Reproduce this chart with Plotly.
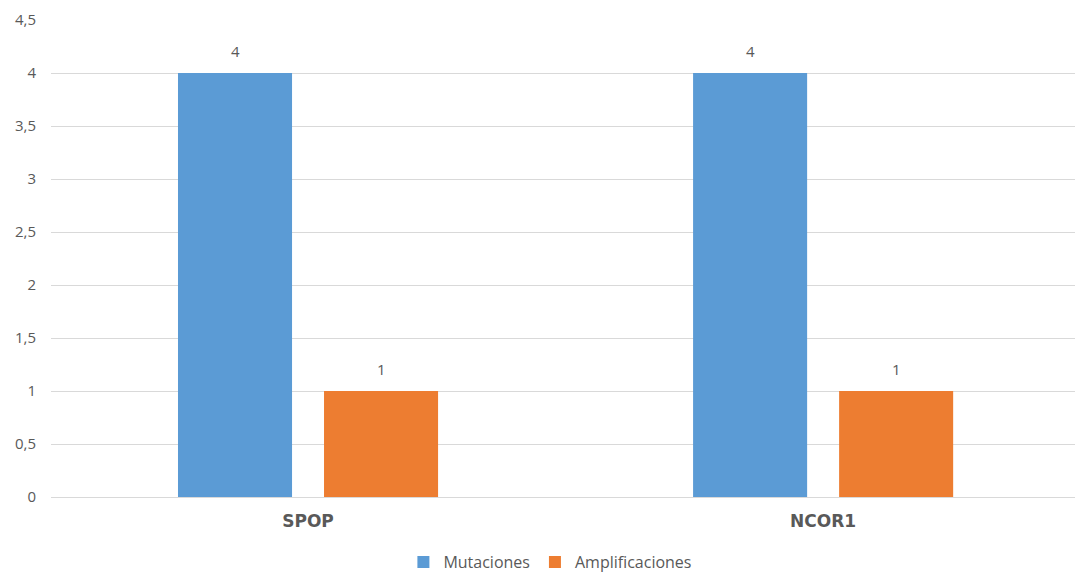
import plotly.graph_objects as go

genes = ["SPOP", "NCOR1"]
mutaciones = [4, 4]
amplificaciones = [1, 1]
y_ticks = [0, 0.5, 1, 1.5, 2, 2.5, 3, 3.5, 4, 4.5]
y_tick_text = ["0", "0,5", "1", "1,5", "2", "2,5", "3", "3,5", "4", "4,5"]

BLUE = "#5B9BD5"
ORANGE = "#ED7D31"
TEXT = "#595959"
GRID = "#D9D9D9"
FONT = "Open Sans"

fig = go.Figure()
fig.add_trace(go.Bar(name="Mutaciones", x=genes, y=mutaciones,
                     marker=dict(color=BLUE, line=dict(width=0))))
fig.add_trace(go.Bar(name="Amplificaciones", x=genes, y=amplificaciones,
                     marker=dict(color=ORANGE, line=dict(width=0))))

# value labels above each bar
annotations = []
for i, g in enumerate(genes):
    for j, vals in enumerate([mutaciones, amplificaciones]):
        annotations.append(dict(
            x=i + (-0.5 + j) * 0.2835, xref="x", y=vals[i], yref="y",
            text=str(vals[i]), showarrow=False, yanchor="bottom", yshift=10,
            font=dict(family=FONT, size=15, color=TEXT)))

fig.update_layout(
    width=1075, height=579,
    margin=dict(l=51, r=0, t=20, b=82, autoexpand=False),
    paper_bgcolor="white", plot_bgcolor="white",
    barmode="group", bargap=0.433, bargroupgap=0.219,
    font=dict(family=FONT, size=15, color=TEXT),
    xaxis=dict(showgrid=False, showline=True, linecolor=GRID, linewidth=1,
               ticks="", automargin=False, range=[-0.499, 1.489],
               tickfont=dict(family="DejaVu Sans", size=17, color=TEXT,
                             weight="bold"),
               ticklabelstandoff=9),
    yaxis=dict(range=[0, 4.5], tickvals=y_ticks, ticktext=y_tick_text,
               showgrid=True, gridcolor=GRID, gridwidth=1, zeroline=False,
               showline=False, ticks="", ticklabelstandoff=14, automargin=False,
               tickfont=dict(family=FONT, size=15, color=TEXT)),
    legend=dict(orientation="h", x=0.512, xanchor="center", xref="container",
                y=-0.012, yanchor="bottom", yref="container",
                font=dict(family=FONT, size=16, color=TEXT),
                itemwidth=30, traceorder="normal"),
    annotations=annotations,
)

fig.write_html("out.html")
